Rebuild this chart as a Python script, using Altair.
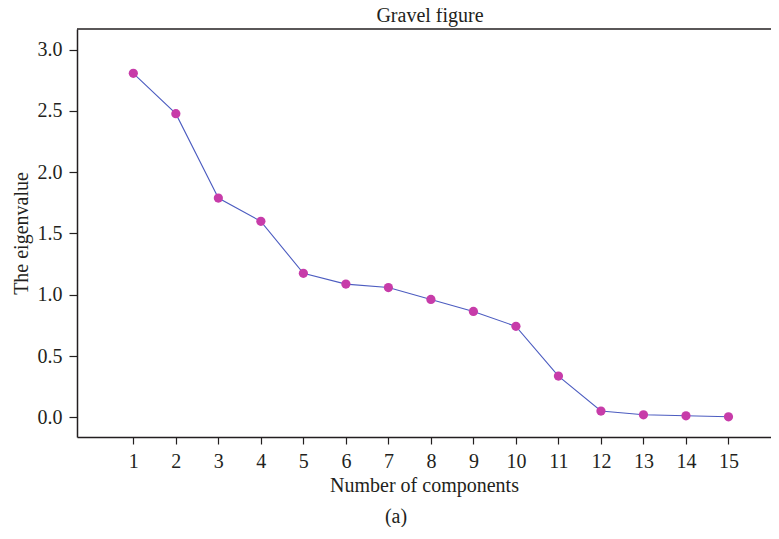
import altair as alt
import pandas as pd

components = list(range(1, 16))
eigenvalues = [2.807, 2.478, 1.789, 1.599, 1.175, 1.087, 1.059, 0.962,
               0.864, 0.742, 0.336, 0.051, 0.020, 0.012, 0.004]
y_ticks = [0.0, 0.5, 1.0, 1.5, 2.0, 2.5, 3.0]
x_domain = [-0.325, 16.0]
y_domain = [-0.161, 3.169]
title_text = ["Gravel figure"]
x_title = "Number of components"
y_title = "The eigenvalue"
caption = ["(a)"]

df = pd.DataFrame({"component": components, "eigenvalue": eigenvalues})
cap_df = pd.DataFrame({"caption": caption})
title_df = pd.DataFrame({"title": title_text})

FONT = "Liberation Serif"
DARK = "#231f20"
FS = 20
xscale = alt.Scale(domain=x_domain, nice=False, zero=False)
yscale = alt.Scale(domain=y_domain, nice=False, zero=False)

line = alt.Chart(df).mark_line(color="#4c5cc0", strokeWidth=1.1).encode(
    x=alt.X("component:Q", scale=xscale,
            axis=alt.Axis(values=components, format="d", title=x_title,
                          orient="bottom", tickSize=7, labelPadding=7,
                          titlePadding=4)),
    y=alt.Y("eigenvalue:Q", scale=yscale,
            axis=alt.Axis(values=y_ticks, format=".1f", title=y_title,
                          orient="left", tickSize=8, labelPadding=7,
                          titlePadding=6)),
)

points = alt.Chart(df).mark_circle(size=85, color="#c73ca9", opacity=1).encode(
    x=alt.X("component:Q", scale=xscale),
    y=alt.Y("eigenvalue:Q", scale=yscale),
)

top_frame = alt.Chart(cap_df).mark_rule(color=DARK, strokeWidth=1.5).encode(
    x=alt.datum(x_domain[0]),
    x2=alt.datum(x_domain[1]),
    y=alt.datum(y_domain[1]),
)

title_mark = alt.Chart(title_df).mark_text(
    font=FONT, fontSize=FS, color=DARK, baseline="alphabetic", align="center"
).encode(
    text="title:N",
    x=alt.value(353),
    y=alt.value(-7),
)

cap = alt.Chart(cap_df).mark_text(font=FONT, fontSize=FS, color=DARK).encode(
    text="caption:N",
    x=alt.value(319),
    y=alt.value(488),
)

chart = (
    alt.layer(line, points, top_frame, title_mark, cap)
    .properties(
        width=694,
        height=408,
        padding={"left": 69, "top": 21, "right": 0, "bottom": 90},
        autosize=alt.AutoSizeParams(type="none"),
    )
    .configure_view(stroke=None)
    .configure_axis(
        grid=False,
        domainColor=DARK,
        domainWidth=1.5,
        tickColor=DARK,
        tickWidth=1.2,
        labelFont=FONT,
        labelFontSize=FS,
        labelColor=DARK,
        titleFont=FONT,
        titleFontSize=FS,
        titleFontWeight="normal",
        titleColor=DARK,
    )
)

chart.save("out.html", embed_options={"renderer": "svg", "actions": False})
